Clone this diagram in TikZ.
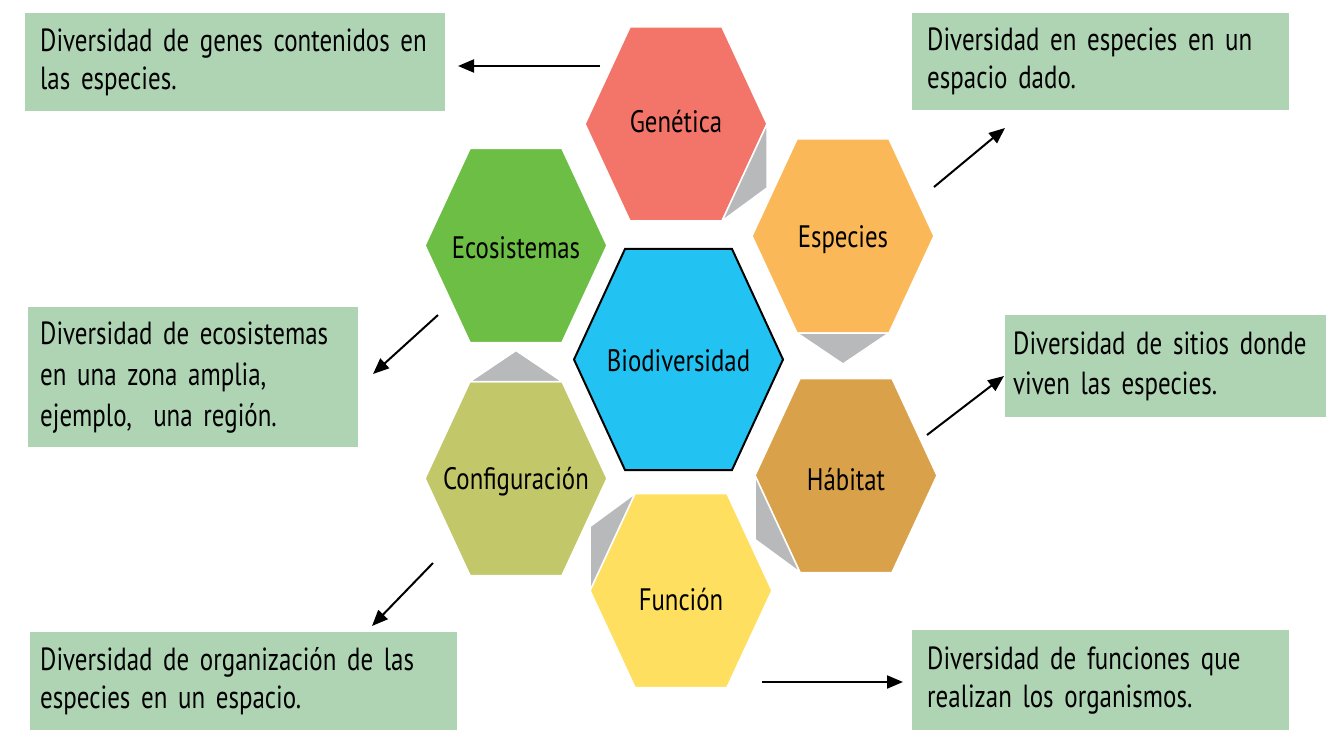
\documentclass[tikz,border=0pt]{standalone}
\usepackage{fontspec}
\setmainfont[FakeStretch=0.8]{PT Sans}
\newfontfamily\boxfont[FakeStretch=0.78,WordSpace=0.5]{PT Sans}
\usetikzlibrary{arrows.meta,calc}
\hyphenpenalty=10000
\definecolor{genred}{HTML}{F37468}
\definecolor{espor}{HTML}{FBB858}
\definecolor{ecogr}{HTML}{6CBE45}
\definecolor{biocyan}{HTML}{22C3F2}
\definecolor{conol}{HTML}{C2C86A}
\definecolor{habbr}{HTML}{D8A14A}
\definecolor{funye}{HTML}{FEDF60}
\definecolor{shadegrey}{HTML}{B8B9BB}
\definecolor{boxgreen}{HTML}{AFD4B4}
\tikzset{
  hexlabel/.style={font=\fontsize{31}{38}\selectfont, inner sep=0pt},
  infobox/.style={fill=boxgreen, anchor=north west, align=left, inner ysep=0pt,
    font=\boxfont\fontsize{32}{38}\selectfont},
  shade/.style={fill=shadegrey, draw=white, line width=1.5pt},
  arr/.style={-{Triangle[length=16pt,width=13pt]}, line width=2pt}
}
\begin{document}
\begin{tikzpicture}[x=1pt,y=-1pt]
  \useasboundingbox (0,0) rectangle (1334,730);
  % outer cells
  \foreach \nm/\cx/\cy/\dy/\col/\txt in {gen/676/124/-2/genred/Genética,
      esp/843/236/4/espor/Especies, eco/516/245.5/2/ecogr/Ecosistemas,
      con/516/478.5/3/conol/Configuración, hab/846/475.5/4/habbr/Hábitat,
      fun/681/590.5/9/funye/Función}{
    \coordinate (\nm c) at (\cx,\cy);
    \filldraw[fill=\col, draw=white, line width=1.5pt, shift={(\nm c)}]
      (-91,0) -- (-46,-97) -- (46,-97) -- (91,0) -- (46,97) -- (-46,97) -- cycle;
    \node[hexlabel] (\nm) at (\cx,\cy+\dy) {\txt};
  }
  % central cell
  \filldraw[fill=biocyan, draw=black, line width=2pt, shift={(678.5,359.5)}]
    (-104.5,0) -- (-53.5,-110.5) -- (53.5,-110.5) -- (104.5,0) -- (53.5,110.5) -- (-53.5,110.5) -- cycle;
  \node[hexlabel] (bio) at (678.5,360.5) {Biodiversidad};
  % grey shades
  \filldraw[shade, shift={(genc)}] (91,0) -- (91,64) -- (46,97) -- cycle;
  \filldraw[shade, shift={(espc)}] (-46,97) -- (46,97) -- (0,128) -- cycle;
  \filldraw[shade, shift={(habc)}] (-91,0) -- (-91,64) -- (-46,97) -- cycle;
  \filldraw[shade, shift={(func)}] (-46,-97) -- (-91,-64) -- (-91,0) -- cycle;
  \filldraw[shade, shift={(conc)}] (-46,-97) -- (46,-97) -- (0,-128) -- cycle;
  % descriptions
  \node[infobox, inner xsep=15pt, text width=390pt, minimum height=98pt] (dgen) at (25,13)
    {Diversidad de genes contenidos en\\las especies.};
  \node[infobox, inner xsep=15pt, text width=347pt, minimum height=97pt] (desp) at (912,13)
    {Diversidad en especies en un\\espacio dado.};
  \node[infobox, inner xsep=12pt, text width=306pt, minimum height=140pt,
    font=\boxfont\fontsize{32}{41}\selectfont] (deco) at (28,307)
    {Diversidad de ecosistemas\\en una zona amplia,\\ejemplo,\ \ una región.};
  \node[infobox, inner xsep=8pt, text width=305pt, minimum height=102pt,
    font=\boxfont\fontsize{32}{40}\selectfont] (dhab) at (1005,315)
    {Diversidad de sitios donde\\viven las especies.};
  \node[infobox, inner xsep=10pt, text width=407pt, minimum height=98pt] (dcon) at (30,632)
    {Diversidad de organización de las\\especies en un espacio.};
  \node[infobox, inner xsep=15pt, text width=347pt, minimum height=100pt] (dfun) at (912,630)
    {Diversidad de funciones que\\realizan los organismos.};
  % arrows
  \coordinate (a1) at (600,66);  \coordinate (b1) at (458,66);
  \coordinate (a2) at (934,187); \coordinate (b2) at (1005,128);
  \coordinate (a3) at (438,315); \coordinate (b3) at (373,374);
  \coordinate (a4) at (927,435); \coordinate (b4) at (1004,376);
  \coordinate (a5) at (433,563); \coordinate (b5) at (372,626);
  \coordinate (a6) at (762,682); \coordinate (b6) at (903,682);
  \foreach \i in {1,...,6} \draw[arr] (a\i) -- (b\i);
\end{tikzpicture}
\end{document}
